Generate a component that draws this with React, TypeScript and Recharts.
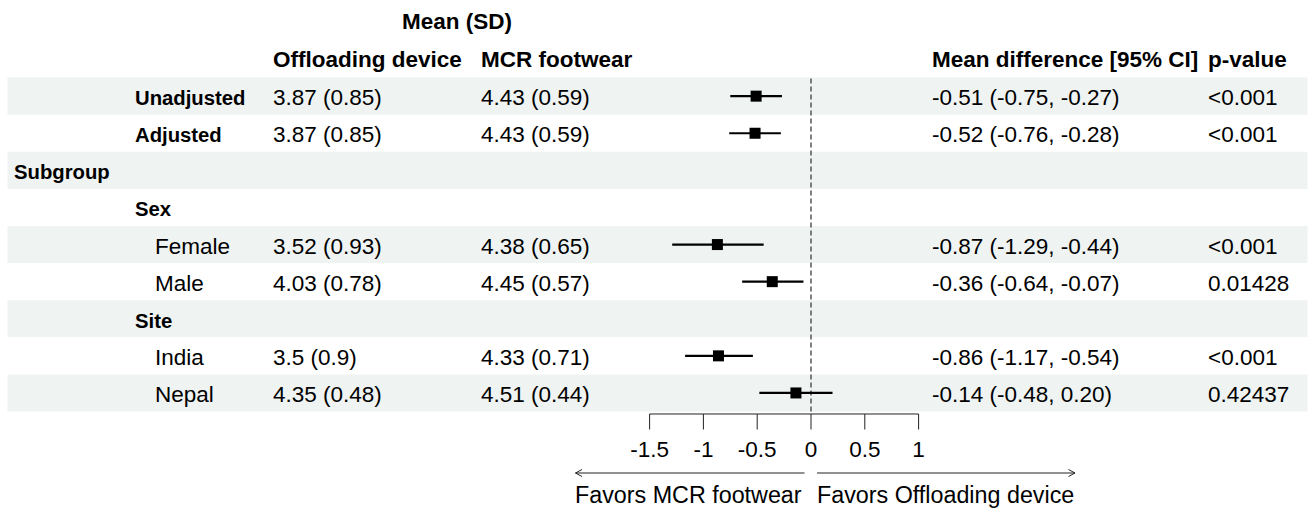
import { ScatterChart, Scatter, XAxis, YAxis, ReferenceArea, ReferenceLine, ErrorBar } from 'recharts'

const rowLabels = ['Unadjusted', 'Adjusted', 'Subgroup', 'Sex', 'Female', 'Male', 'Site', 'India', 'Nepal']
// 0 = group title, 1 = bold heading, 2 = plain subgroup level
const rowLevels = [1, 1, 0, 1, 2, 2, 1, 2, 2]
const offloadingMeanSd = ['3.87 (0.85)', '3.87 (0.85)', '', '', '3.52 (0.93)', '4.03 (0.78)', '', '3.5 (0.9)', '4.35 (0.48)']
const mcrMeanSd = ['4.43 (0.59)', '4.43 (0.59)', '', '', '4.38 (0.65)', '4.45 (0.57)', '', '4.33 (0.71)', '4.51 (0.44)']
const estimates = [-0.51, -0.52, null, null, -0.87, -0.36, null, -0.86, -0.14]
const lowerCI = [-0.75, -0.76, null, null, -1.29, -0.64, null, -1.17, -0.48]
const upperCI = [-0.27, -0.28, null, null, -0.44, -0.07, null, -0.54, 0.2]
const pValues = ['<0.001', '<0.001', '', '', '<0.001', '0.01428', '', '<0.001', '0.42437']
const xTicks = [-1.5, -1, -0.5, 0, 0.5, 1]

const WIDTH = 1314
const HEIGHT = 511
const PLOT_TOP = 77.6
const PLOT_BOTTOM = 411.5
const PLOT_LEFT = 7.5
const PLOT_RIGHT = 1307.5
const ZERO_X = 811
const PX_PER_UNIT = 107.6
const X_DOMAIN = [(PLOT_LEFT - ZERO_X) / PX_PER_UNIT, (PLOT_RIGHT - ZERO_X) / PX_PER_UNIT]

const FONT = '"Liberation Sans", Arial, sans-serif'
const FONT_SIZE = 22.5
const LABEL_FONT_SIZE = 20.3
const SHADE = '#eff3f2'
const LEVEL_X = [14, 135, 155]
const COL_OFFLOADING = 273
const COL_MCR = 481
const COL_CI = 932
const COL_P = 1208

const rowIds = rowLabels.map((_, i) => i + 1)

const points = estimates
  .map((est, i) => (est == null ? null : {
    x: est,
    y: i + 1,
    err: [est - (lowerCI[i] as number), (upperCI[i] as number) - est],
  }))
  .filter(Boolean)

function ciText(i: number) {
  const est = estimates[i]
  if (est == null) return ''
  return `${est.toFixed(2)} (${(lowerCI[i] as number).toFixed(2)}, ${(upperCI[i] as number).toFixed(2)})`
}

/** The y-axis tick draws the whole table row at the row's scaled y. */
function RowTick(props: any) {
  const { y, payload } = props
  const i = Math.round(Number(payload?.value)) - 1
  if (!(i >= 0 && i < rowLabels.length)) return <g />
  const base = y + 9
  const txt = { fontFamily: FONT, fontSize: FONT_SIZE, fill: '#000' }
  const isHeading = rowLevels[i] < 2
  return (
    <g>
      <text
        x={LEVEL_X[rowLevels[i]]}
        y={base}
        {...txt}
        fontSize={isHeading ? LABEL_FONT_SIZE : FONT_SIZE}
        fontWeight={isHeading ? 'bold' : 'normal'}
      >
        {rowLabels[i]}
      </text>
      <text x={COL_OFFLOADING} y={base} {...txt}>{offloadingMeanSd[i]}</text>
      <text x={COL_MCR} y={base} {...txt}>{mcrMeanSd[i]}</text>
      <text x={COL_CI} y={base} {...txt}>{ciText(i)}</text>
      <text x={COL_P} y={base} {...txt}>{pValues[i]}</text>
    </g>
  )
}

function AxisTick({ x, y, payload }: any) {
  return (
    <g>
      <line x1={x} x2={x} y1={y + 2.5} y2={y + 18} stroke="#222" strokeWidth={1} />
      <text x={x} y={y + 45.5} textAnchor="middle" fontFamily={FONT} fontSize={FONT_SIZE} fill="#000">{String(payload.value)}</text>
    </g>
  )
}

function SquareMarker({ cx, cy }: any) {
  return <rect x={cx - 5.5} y={cy - 5.5} width={11} height={11} fill="#000" />
}

function Overlay() {
  const bold = { fontFamily: FONT, fontSize: FONT_SIZE, fontWeight: 'bold' as const, fill: '#000' }
  const reg = { fontFamily: FONT, fontSize: 23.3, fill: '#000' }
  const ay = 473
  return (
    <svg width={WIDTH} height={HEIGHT} style={{ position: 'absolute', left: 0, top: 0, pointerEvents: 'none' }}>
      <text x={457} y={29} textAnchor="middle" {...bold}>Mean (SD)</text>
      <text x={COL_OFFLOADING} y={66.5} {...bold}>Offloading device</text>
      <text x={COL_MCR} y={66.5} {...bold}>MCR footwear</text>
      <text x={COL_CI} y={66.5} {...bold}>Mean difference [95% CI]</text>
      <text x={COL_P} y={66.5} {...bold}>p-value</text>

      <g stroke="#222" strokeWidth={1} fill="none">
        <line x1={ZERO_X - 235.5} x2={ZERO_X - 6.5} y1={ay} y2={ay} />
        <polyline points={`${ZERO_X - 229},${ay - 3.5} ${ZERO_X - 235.5},${ay} ${ZERO_X - 229},${ay + 3.5}`} />
        <line x1={ZERO_X + 6} x2={ZERO_X + 264} y1={ay} y2={ay} />
        <polyline points={`${ZERO_X + 257.5},${ay - 3.5} ${ZERO_X + 264},${ay} ${ZERO_X + 257.5},${ay + 3.5}`} />
      </g>
      <text x={ZERO_X - 236} y={503} {...reg}>Favors MCR footwear</text>
      <text x={ZERO_X + 6} y={503} {...reg}>Favors Offloading device</text>
    </svg>
  )
}

export default function App() {
  return (
    <div style={{ position: 'absolute', left: 0, top: 0, width: WIDTH, height: HEIGHT, background: '#fff' }}>
      <ScatterChart
        width={WIDTH}
        height={HEIGHT}
        margin={{ top: PLOT_TOP, bottom: 0, left: PLOT_LEFT - 1, right: WIDTH - PLOT_RIGHT }}
      >
        <XAxis
          type="number"
          dataKey="x"
          domain={X_DOMAIN}
          ticks={xTicks}
          interval={0}
          axisLine={false}
          tickLine={false}
          tickSize={0}
          tickMargin={0}
          height={HEIGHT - PLOT_BOTTOM}
          tick={<AxisTick />}
          allowDataOverflow
        />
        <YAxis
          type="number"
          dataKey="y"
          domain={[0.5, rowLabels.length + 0.5]}
          ticks={rowIds}
          interval={0}
          reversed
          width={1}
          axisLine={false}
          tickLine={false}
          tickSize={0}
          tickMargin={0}
          tick={<RowTick />}
          allowDataOverflow
        />
        {rowIds.filter((r) => r % 2 === 1).map((r) => (
          <ReferenceArea key={r} y1={r - 0.5} y2={r + 0.5} fill={SHADE} fillOpacity={1} stroke="none" />
        ))}
        <ReferenceLine x={0} stroke="#555" strokeWidth={1.5} strokeDasharray="5 3" />
        <ReferenceLine
          segment={[{ x: xTicks[0], y: rowLabels.length + 0.567 }, { x: xTicks[xTicks.length - 1], y: rowLabels.length + 0.567 }]}
          stroke="#222"
          strokeWidth={1}
          ifOverflow="visible"
        />
        <Scatter data={points} shape={<SquareMarker />} isAnimationActive={false}>
          <ErrorBar dataKey="err" direction="x" width={0} stroke="#000" strokeWidth={2.2} />
        </Scatter>
      </ScatterChart>
      <Overlay />
    </div>
  )
}
